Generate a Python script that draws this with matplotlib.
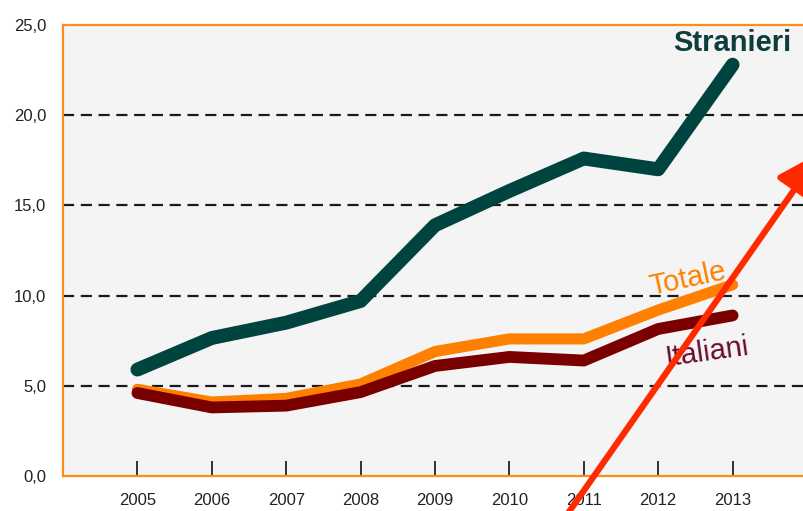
import numpy as np
import matplotlib
matplotlib.use('Agg')
import matplotlib.pyplot as plt

# ── Data ───────────────────────────────────────────────────────────────────────
years     = [2005, 2006, 2007, 2008, 2009, 2010, 2011, 2012, 2013]
stranieri = [5.9, 7.65, 8.5, 9.7, 13.9, 15.8, 17.6, 17.0, 22.8]
totale    = [4.8, 4.1, 4.3, 5.1, 6.9, 7.6, 7.6, 9.2, 10.6]
italiani  = [4.6, 3.8, 3.9, 4.65, 6.1, 6.6, 6.4, 8.15, 8.9]
y_ticks   = [0, 5, 10, 15, 20, 25]

# ── Figure ─────────────────────────────────────────────────────────────────────
plt.rcParams['font.family'] = ['Liberation Sans', 'DejaVu Sans']
fig = plt.figure(figsize=(8.04, 5.11), dpi=100)
ax = fig.add_axes([63/804, 35/511, 744/804, 451/511])
ax.set_facecolor('#f4f4f4')

for y in y_ticks[1:-1]:
    ax.axhline(y, color='#1a1a1a', lw=1.6, ls=(0, (5, 3)), zorder=1)

ax.plot(years, stranieri, color='#00443f', lw=10, solid_capstyle='round',
        solid_joinstyle='round', zorder=3)
ax.plot(years, totale, color='#ff8000', lw=8, solid_capstyle='round',
        solid_joinstyle='round', zorder=3)
ax.plot(years, italiani, color='#7a0000', lw=8.5, solid_capstyle='round',
        solid_joinstyle='round', zorder=4)

ax.text(2013.0, 23.2, 'Stranieri', color='#0d3d3d', fontsize=21,
        fontweight='bold', ha='center', va='bottom')
ax.text(2012.4, 10.9, 'Totale', color='#ff8000', fontsize=21,
        rotation=12, ha='center', va='center', zorder=5)
ax.text(2012.65, 6.85, 'Italiani', color='#6a0a30', fontsize=21,
        rotation=8, ha='center', va='center', zorder=5)

ax.set_xlim(2004, 2014)
ax.set_ylim(0, 25)
ax.set_xticks(years)
ax.set_yticks(y_ticks)
ax.set_yticklabels([f'{v:.1f}'.replace('.', ',') for v in y_ticks])
ax.tick_params(axis='x', direction='in', length=11, width=1.2, color='#111111',
               labelsize=12, pad=12, labelcolor='#222222')
ax.tick_params(axis='y', length=0, labelsize=12, pad=12, labelcolor='#222222')
for s in ax.spines.values():
    s.set_color('#ff8c1a')
    s.set_linewidth(1.6)

# red arrow overlaid on the picture
fig.patches.append(matplotlib.patches.FancyArrowPatch(
    (564/804, -8/511), (822/804, 1 - 150/511), transform=fig.transFigure,
    arrowstyle='-|>,head_length=12,head_width=6', mutation_scale=2.2,
    color='#ff2a00', lw=4.5, zorder=10))

fig.savefig('out.png', dpi=100)
